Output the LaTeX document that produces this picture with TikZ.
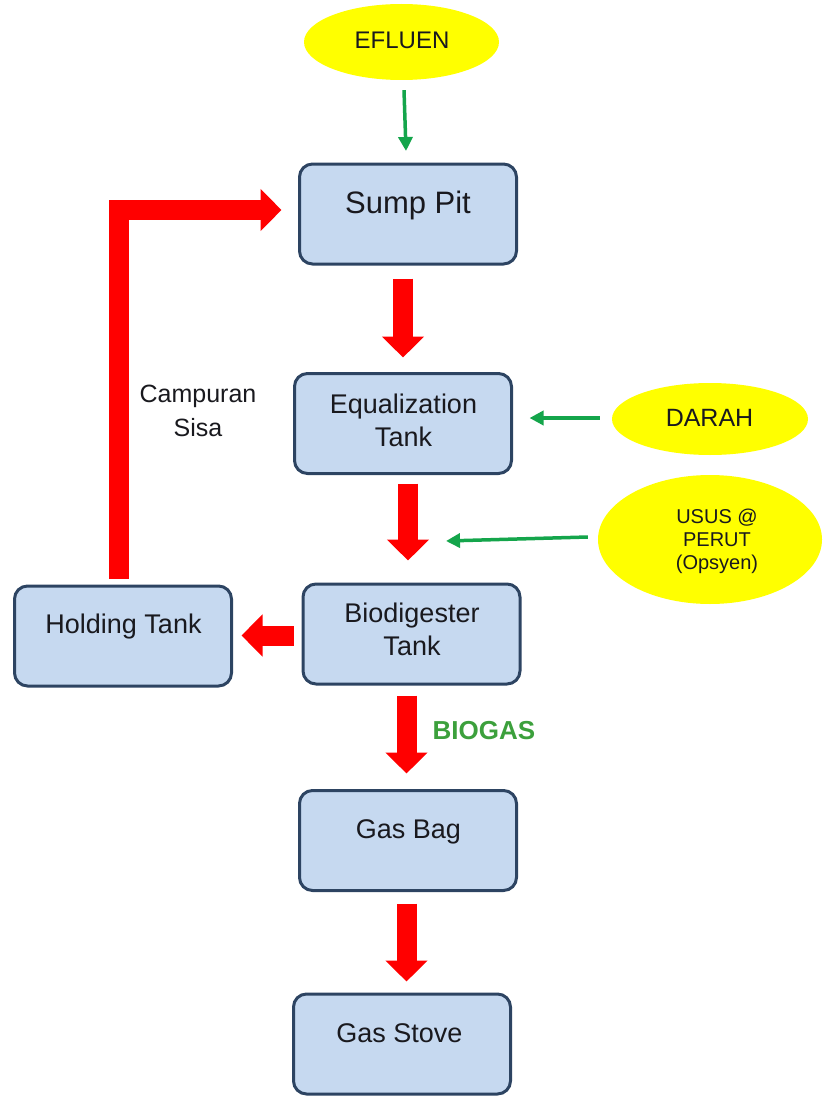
\documentclass[tikz,border=0pt]{standalone}
\usepackage{fontspec}
\setmainfont{Liberation Sans}
\usetikzlibrary{arrows.meta,calc,shapes.geometric}
\definecolor{boxfill}{RGB}{198,217,240}
\definecolor{boxline}{RGB}{45,68,98}
\definecolor{flowred}{RGB}{255,0,0}
\definecolor{flowgreen}{RGB}{20,165,75}
\definecolor{labelgreen}{RGB}{60,160,60}
\definecolor{ellfill}{RGB}{255,255,0}
\definecolor{txt}{RGB}{25,25,30}
\begin{document}
\begin{tikzpicture}[x=1pt,y=-1pt,
  box/.style={draw=boxline, line width=3pt, fill=boxfill, rounded corners=13pt,
    minimum width=217pt, minimum height=100pt, inner sep=0pt},
  boxtext/.style={text=txt, font=\fontsize{27}{33}\selectfont, align=center, inner sep=0pt},
  oval/.style={ellipse, fill=ellfill, inner sep=0pt},
  ovaltext/.style={text=txt, inner sep=0pt, align=center},
  redarrow/.style={draw=flowred, line width=20pt, -{Triangle[length=21pt,width=41pt]}},
  greenarrow/.style={draw=flowgreen, line width=3.5pt, -{Triangle[length=14pt,width=14pt]}}
]
\useasboundingbox (0,0) rectangle (822,1097);

% ovals
\node[oval, minimum width=195pt, minimum height=76pt] (efluen) at (401.5,42) {};
\node[ovaltext, anchor=base, font=\fontsize{24}{28}\selectfont] (efluenT) at (402,49) {EFLUEN};
\node[oval, minimum width=196pt, minimum height=72pt] (darah) at (710,419) {};
\node[ovaltext, anchor=base, font=\fontsize{25}{29}\selectfont] (darahT) at (709.5,426) {DARAH};
\node[oval, minimum width=224pt, minimum height=129pt] (usus) at (710,539.5) {};
\node[ovaltext, font=\fontsize{20}{23}\selectfont] (ususT) at (717,541.5) {USUS @\\PERUT\\(Opsyen)};

% boxes
\node[box] (sump) at (408,214) {};
\node[boxtext, anchor=base, font=\fontsize{31}{36}\selectfont] (sumpT) at (408,213) {Sump Pit};
\node[box] (eq) at (403,423.5) {};
\node[boxtext] (eqT) at (403.5,420.5) {Equalization\\Tank};
\node[box] (bio) at (411.5,634) {};
\node[boxtext] (bioT) at (412,629) {Biodigester\\Tank};
\node[box] (hold) at (123,636) {};
\node[boxtext, anchor=base] (holdT) at (123.5,633) {Holding Tank};
\node[box] (gasbag) at (408,840.5) {};
\node[boxtext, anchor=base] (gasbagT) at (408.5,838) {Gas Bag};
\node[box] (stove) at (402,1044) {};
\node[boxtext, anchor=base] (stoveT) at (399.5,1042) {Gas Stove};

% labels
\node[text=txt, align=center, inner sep=0pt, font=\fontsize{25}{34}\selectfont] (campuran) at (198,410.5) {Campuran\\Sisa};
\node[text=labelgreen, inner sep=0pt, anchor=base, font=\bfseries\fontsize{26}{30}\selectfont] (biogas) at (484,739) {BIOGAS};

% red flow arrows
\draw[redarrow, shorten <=13pt, shorten >=14.5pt] (sump.south -| eq.north) -- (eq.north);
\draw[redarrow, shorten <=8.5pt, shorten >=22pt] ($(eq.south)+(5,0)$) -- ($(bio.north)+(-3.5,0)$);
\draw[redarrow, shorten <=10pt, shorten >=15.5pt] ($(bio.south)+(-5,0)$) -- ($(gasbag.north)+(-1.5,0)$);
\draw[redarrow, shorten <=11.5pt, shorten >=11pt] ($(gasbag.south)+(-1.5,0)$) -- ($(stove.north)+(4.5,0)$);
\draw[redarrow, shorten <=8pt, shorten >=8.5pt] ($(bio.west)+(0,1.5)$) -- ($(hold.east)+(0,-0.5)$);
\draw[redarrow] ($(hold.north)+(-4,-6)$) |- ($(sump.west)+(-16.5,-4)$);

% green input arrows
\draw[greenarrow] ($(efluen.south)+(2.5,10)$) -- ($(sump.north)+(-2,-11.5)$);
\draw[greenarrow] ($(darah.west)+(-12,-1)$) -- ($(eq.east)+(16.5,-5.5)$);
\coordinate (ususTip) at (446,541);
\draw[greenarrow] ($(usus.west)+(-10,-2.5)$) -- (ususTip);
\end{tikzpicture}
\end{document}
